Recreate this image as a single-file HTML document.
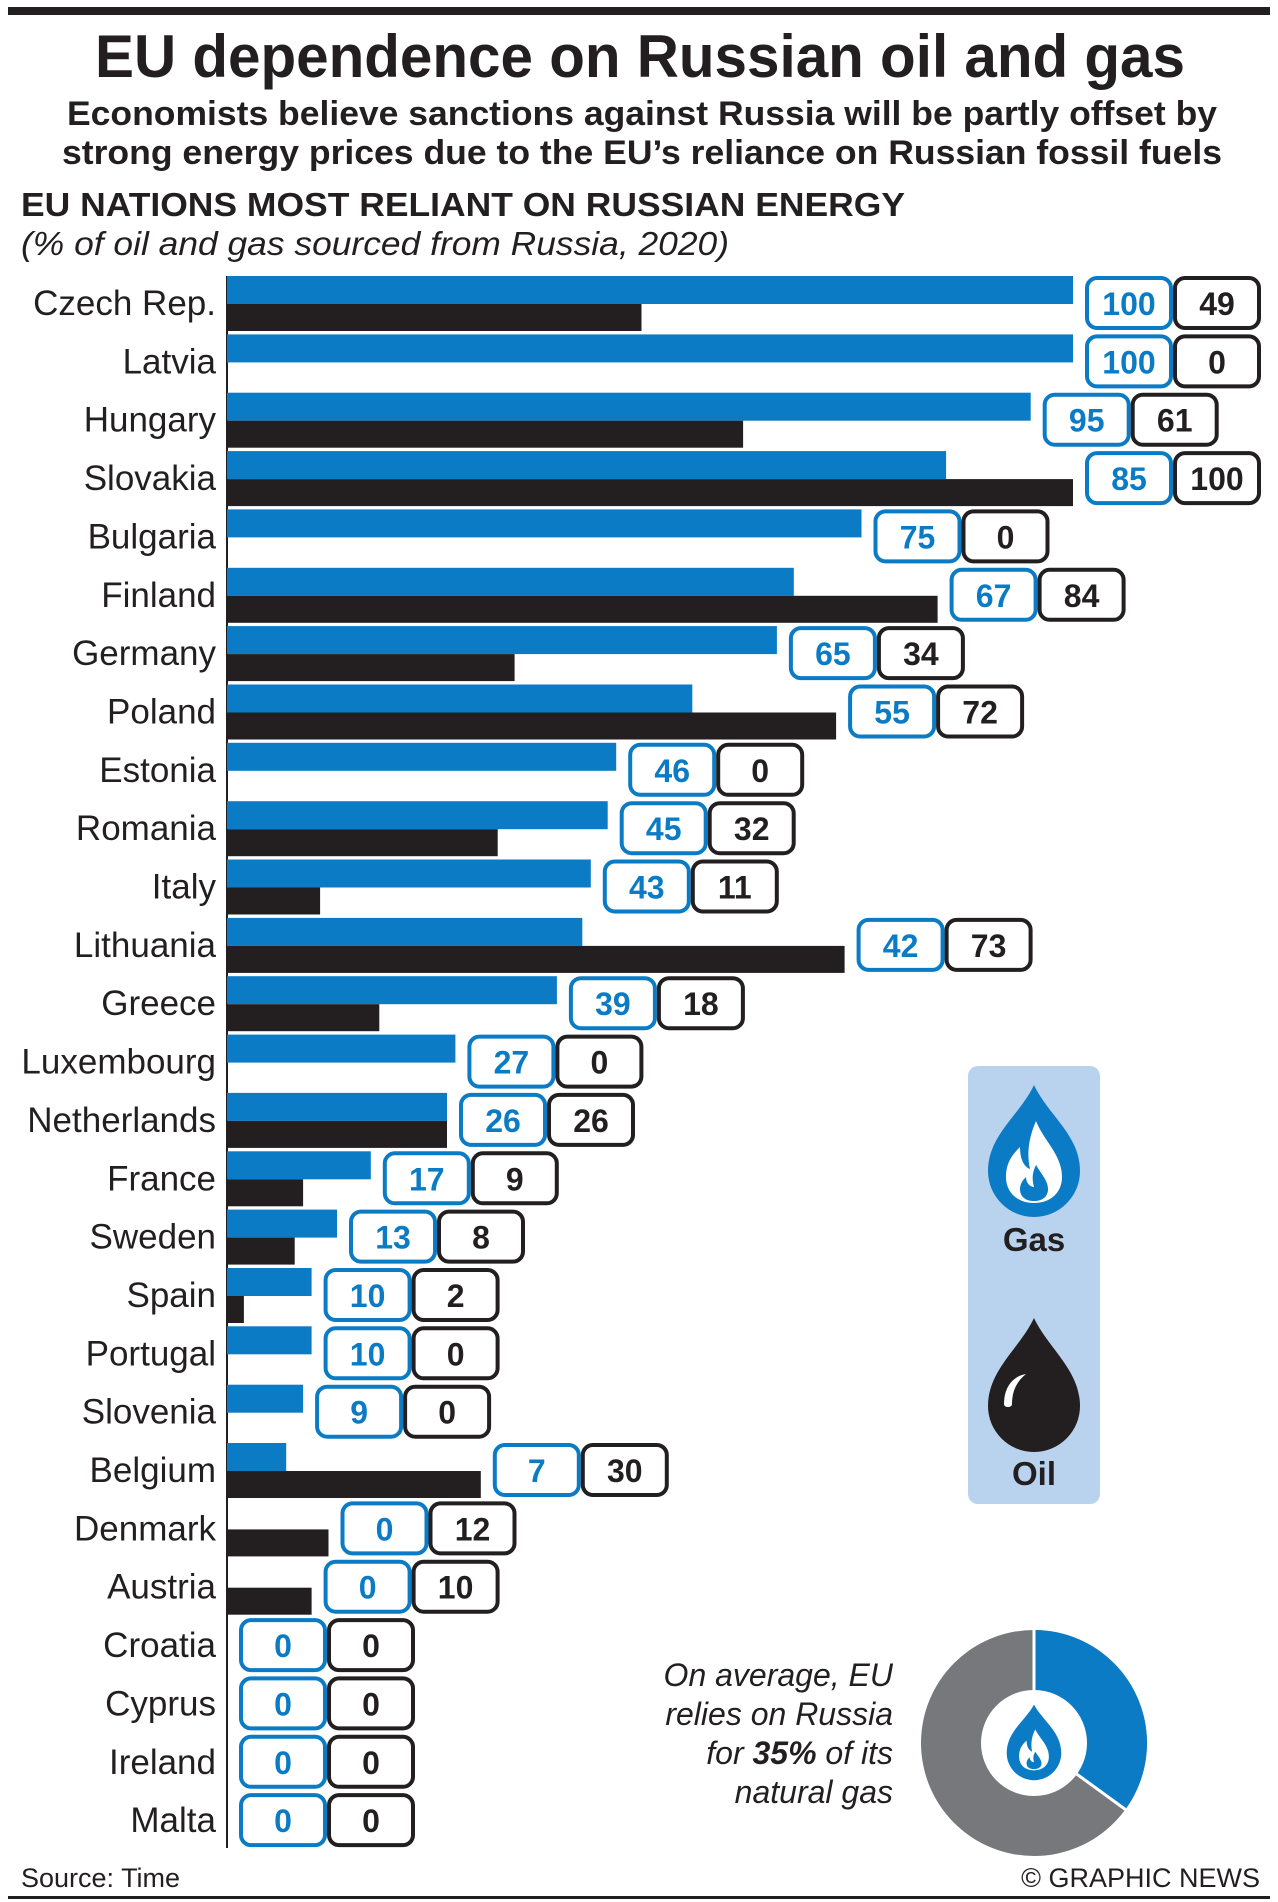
<!DOCTYPE html>
<html><head><meta charset="utf-8"><style>
html,body{margin:0;padding:0;background:#fff}
svg{display:block}
text{font-family:"Liberation Sans",Arial,sans-serif}
.lab{font-size:35px;text-anchor:end;fill:#231f20}
.bv{font-size:32px;font-weight:bold;fill:#0a7bc4;text-anchor:middle}
.ov{font-size:32px;font-weight:bold;fill:#231f20;text-anchor:middle}
.bb{fill:#fff;stroke:#0a7bc4;stroke-width:4}
.ob{fill:#fff;stroke:#231f20;stroke-width:4}
.g{fill:#0a7bc4}.o{fill:#231f20}
</style></head><body>
<svg width="1278" height="1902" viewBox="0 0 1278 1902" xmlns="http://www.w3.org/2000/svg">
<rect x="8" y="7" width="1262" height="8" fill="#231f20"/>
<text x="640" y="77" font-size="60" font-weight="bold" text-anchor="middle" textLength="1090" lengthAdjust="spacingAndGlyphs" fill="#231f20">EU dependence on Russian oil and gas</text>
<text x="642" y="125" font-size="34" font-weight="bold" text-anchor="middle" textLength="1150" lengthAdjust="spacingAndGlyphs" fill="#231f20">Economists believe sanctions against Russia will be partly offset by</text>
<text x="642" y="164" font-size="34" font-weight="bold" text-anchor="middle" textLength="1160" lengthAdjust="spacingAndGlyphs" fill="#231f20">strong energy prices due to the EU’s reliance on Russian fossil fuels</text>
<text x="21" y="216" font-size="33" font-weight="bold" textLength="884" lengthAdjust="spacingAndGlyphs" fill="#231f20">EU NATIONS MOST RELIANT ON RUSSIAN ENERGY</text>
<text x="21" y="255" font-size="33" font-style="italic" textLength="708" lengthAdjust="spacingAndGlyphs" fill="#231f20">(% of oil and gas sourced from Russia, 2020)</text>

<line x1="227" y1="276" x2="227" y2="1848" stroke="#231f20" stroke-width="2"/>

<g transform="translate(0,276)"><text class="lab" x="216" y="39">Czech Rep.</text><rect class="g" x="227" y="0" width="846" height="28"/><rect class="o" x="227" y="28" width="414.5" height="27"/><rect class="bb" x="1087" y="2" width="84" height="50" rx="10"/><text class="bv" x="1129" y="39">100</text><rect class="ob" x="1175" y="2" width="84" height="50" rx="10"/><text class="ov" x="1217" y="39">49</text></g>
<g transform="translate(0,334.4)"><text class="lab" x="216" y="39">Latvia</text><rect class="g" x="227" y="0" width="846" height="28"/><rect class="bb" x="1087" y="2" width="84" height="50" rx="10"/><text class="bv" x="1129" y="39">100</text><rect class="ob" x="1175" y="2" width="84" height="50" rx="10"/><text class="ov" x="1217" y="39">0</text></g>
<g transform="translate(0,392.7)"><text class="lab" x="216" y="39">Hungary</text><rect class="g" x="227" y="0" width="803.7" height="28"/><rect class="o" x="227" y="28" width="516.1" height="27"/><rect class="bb" x="1044.7" y="2" width="84" height="50" rx="10"/><text class="bv" x="1086.7" y="39">95</text><rect class="ob" x="1132.7" y="2" width="84" height="50" rx="10"/><text class="ov" x="1174.7" y="39">61</text></g>
<g transform="translate(0,451.1)"><text class="lab" x="216" y="39">Slovakia</text><rect class="g" x="227" y="0" width="719.1" height="28"/><rect class="o" x="227" y="28" width="846" height="27"/><rect class="bb" x="1087" y="2" width="84" height="50" rx="10"/><text class="bv" x="1129" y="39">85</text><rect class="ob" x="1175" y="2" width="84" height="50" rx="10"/><text class="ov" x="1217" y="39">100</text></g>
<g transform="translate(0,509.4)"><text class="lab" x="216" y="39">Bulgaria</text><rect class="g" x="227" y="0" width="634.5" height="28"/><rect class="bb" x="875.5" y="2" width="84" height="50" rx="10"/><text class="bv" x="917.5" y="39">75</text><rect class="ob" x="963.5" y="2" width="84" height="50" rx="10"/><text class="ov" x="1005.5" y="39">0</text></g>
<g transform="translate(0,567.8)"><text class="lab" x="216" y="39">Finland</text><rect class="g" x="227" y="0" width="566.8" height="28"/><rect class="o" x="227" y="28" width="710.6" height="27"/><rect class="bb" x="951.6" y="2" width="84" height="50" rx="10"/><text class="bv" x="993.6" y="39">67</text><rect class="ob" x="1039.6" y="2" width="84" height="50" rx="10"/><text class="ov" x="1081.6" y="39">84</text></g>
<g transform="translate(0,626.1)"><text class="lab" x="216" y="39">Germany</text><rect class="g" x="227" y="0" width="549.9" height="28"/><rect class="o" x="227" y="28" width="287.6" height="27"/><rect class="bb" x="790.9" y="2" width="84" height="50" rx="10"/><text class="bv" x="832.9" y="39">65</text><rect class="ob" x="878.9" y="2" width="84" height="50" rx="10"/><text class="ov" x="920.9" y="39">34</text></g>
<g transform="translate(0,684.5)"><text class="lab" x="216" y="39">Poland</text><rect class="g" x="227" y="0" width="465.3" height="28"/><rect class="o" x="227" y="28" width="609.1" height="27"/><rect class="bb" x="850.1" y="2" width="84" height="50" rx="10"/><text class="bv" x="892.1" y="39">55</text><rect class="ob" x="938.1" y="2" width="84" height="50" rx="10"/><text class="ov" x="980.1" y="39">72</text></g>
<g transform="translate(0,742.8)"><text class="lab" x="216" y="39">Estonia</text><rect class="g" x="227" y="0" width="389.2" height="28"/><rect class="bb" x="630.2" y="2" width="84" height="50" rx="10"/><text class="bv" x="672.2" y="39">46</text><rect class="ob" x="718.2" y="2" width="84" height="50" rx="10"/><text class="ov" x="760.2" y="39">0</text></g>
<g transform="translate(0,801.2)"><text class="lab" x="216" y="39">Romania</text><rect class="g" x="227" y="0" width="380.7" height="28"/><rect class="o" x="227" y="28" width="270.7" height="27"/><rect class="bb" x="621.7" y="2" width="84" height="50" rx="10"/><text class="bv" x="663.7" y="39">45</text><rect class="ob" x="709.7" y="2" width="84" height="50" rx="10"/><text class="ov" x="751.7" y="39">32</text></g>
<g transform="translate(0,859.5)"><text class="lab" x="216" y="39">Italy</text><rect class="g" x="227" y="0" width="363.8" height="28"/><rect class="o" x="227" y="28" width="93.1" height="27"/><rect class="bb" x="604.8" y="2" width="84" height="50" rx="10"/><text class="bv" x="646.8" y="39">43</text><rect class="ob" x="692.8" y="2" width="84" height="50" rx="10"/><text class="ov" x="734.8" y="39">11</text></g>
<g transform="translate(0,917.9)"><text class="lab" x="216" y="39">Lithuania</text><rect class="g" x="227" y="0" width="355.3" height="28"/><rect class="o" x="227" y="28" width="617.6" height="27"/><rect class="bb" x="858.6" y="2" width="84" height="50" rx="10"/><text class="bv" x="900.6" y="39">42</text><rect class="ob" x="946.6" y="2" width="84" height="50" rx="10"/><text class="ov" x="988.6" y="39">73</text></g>
<g transform="translate(0,976.2)"><text class="lab" x="216" y="39">Greece</text><rect class="g" x="227" y="0" width="329.9" height="28"/><rect class="o" x="227" y="28" width="152.3" height="27"/><rect class="bb" x="570.9" y="2" width="84" height="50" rx="10"/><text class="bv" x="612.9" y="39">39</text><rect class="ob" x="658.9" y="2" width="84" height="50" rx="10"/><text class="ov" x="700.9" y="39">18</text></g>
<g transform="translate(0,1034.6)"><text class="lab" x="216" y="39">Luxembourg</text><rect class="g" x="227" y="0" width="228.4" height="28"/><rect class="bb" x="469.4" y="2" width="84" height="50" rx="10"/><text class="bv" x="511.4" y="39">27</text><rect class="ob" x="557.4" y="2" width="84" height="50" rx="10"/><text class="ov" x="599.4" y="39">0</text></g>
<g transform="translate(0,1092.9)"><text class="lab" x="216" y="39">Netherlands</text><rect class="g" x="227" y="0" width="220" height="28"/><rect class="o" x="227" y="28" width="220" height="27"/><rect class="bb" x="461" y="2" width="84" height="50" rx="10"/><text class="bv" x="503" y="39">26</text><rect class="ob" x="549" y="2" width="84" height="50" rx="10"/><text class="ov" x="591" y="39">26</text></g>
<g transform="translate(0,1151.3)"><text class="lab" x="216" y="39">France</text><rect class="g" x="227" y="0" width="143.8" height="28"/><rect class="o" x="227" y="28" width="76.1" height="27"/><rect class="bb" x="384.8" y="2" width="84" height="50" rx="10"/><text class="bv" x="426.8" y="39">17</text><rect class="ob" x="472.8" y="2" width="84" height="50" rx="10"/><text class="ov" x="514.8" y="39">9</text></g>
<g transform="translate(0,1209.6)"><text class="lab" x="216" y="39">Sweden</text><rect class="g" x="227" y="0" width="110" height="28"/><rect class="o" x="227" y="28" width="67.7" height="27"/><rect class="bb" x="351" y="2" width="84" height="50" rx="10"/><text class="bv" x="393" y="39">13</text><rect class="ob" x="439" y="2" width="84" height="50" rx="10"/><text class="ov" x="481" y="39">8</text></g>
<g transform="translate(0,1268)"><text class="lab" x="216" y="39">Spain</text><rect class="g" x="227" y="0" width="84.6" height="28"/><rect class="o" x="227" y="28" width="16.9" height="27"/><rect class="bb" x="325.6" y="2" width="84" height="50" rx="10"/><text class="bv" x="367.6" y="39">10</text><rect class="ob" x="413.6" y="2" width="84" height="50" rx="10"/><text class="ov" x="455.6" y="39">2</text></g>
<g transform="translate(0,1326.3)"><text class="lab" x="216" y="39">Portugal</text><rect class="g" x="227" y="0" width="84.6" height="28"/><rect class="bb" x="325.6" y="2" width="84" height="50" rx="10"/><text class="bv" x="367.6" y="39">10</text><rect class="ob" x="413.6" y="2" width="84" height="50" rx="10"/><text class="ov" x="455.6" y="39">0</text></g>
<g transform="translate(0,1384.7)"><text class="lab" x="216" y="39">Slovenia</text><rect class="g" x="227" y="0" width="76.1" height="28"/><rect class="bb" x="317.1" y="2" width="84" height="50" rx="10"/><text class="bv" x="359.1" y="39">9</text><rect class="ob" x="405.1" y="2" width="84" height="50" rx="10"/><text class="ov" x="447.1" y="39">0</text></g>
<g transform="translate(0,1443)"><text class="lab" x="216" y="39">Belgium</text><rect class="g" x="227" y="0" width="59.2" height="28"/><rect class="o" x="227" y="28" width="253.8" height="27"/><rect class="bb" x="494.8" y="2" width="84" height="50" rx="10"/><text class="bv" x="536.8" y="39">7</text><rect class="ob" x="582.8" y="2" width="84" height="50" rx="10"/><text class="ov" x="624.8" y="39">30</text></g>
<g transform="translate(0,1501.4)"><text class="lab" x="216" y="39">Denmark</text><rect class="o" x="227" y="28" width="101.5" height="27"/><rect class="bb" x="342.5" y="2" width="84" height="50" rx="10"/><text class="bv" x="384.5" y="39">0</text><rect class="ob" x="430.5" y="2" width="84" height="50" rx="10"/><text class="ov" x="472.5" y="39">12</text></g>
<g transform="translate(0,1559.7)"><text class="lab" x="216" y="39">Austria</text><rect class="o" x="227" y="28" width="84.6" height="27"/><rect class="bb" x="325.6" y="2" width="84" height="50" rx="10"/><text class="bv" x="367.6" y="39">0</text><rect class="ob" x="413.6" y="2" width="84" height="50" rx="10"/><text class="ov" x="455.6" y="39">10</text></g>
<g transform="translate(0,1618.1)"><text class="lab" x="216" y="39">Croatia</text><rect class="bb" x="241" y="2" width="84" height="50" rx="10"/><text class="bv" x="283" y="39">0</text><rect class="ob" x="329" y="2" width="84" height="50" rx="10"/><text class="ov" x="371" y="39">0</text></g>
<g transform="translate(0,1676.4)"><text class="lab" x="216" y="39">Cyprus</text><rect class="bb" x="241" y="2" width="84" height="50" rx="10"/><text class="bv" x="283" y="39">0</text><rect class="ob" x="329" y="2" width="84" height="50" rx="10"/><text class="ov" x="371" y="39">0</text></g>
<g transform="translate(0,1734.8)"><text class="lab" x="216" y="39">Ireland</text><rect class="bb" x="241" y="2" width="84" height="50" rx="10"/><text class="bv" x="283" y="39">0</text><rect class="ob" x="329" y="2" width="84" height="50" rx="10"/><text class="ov" x="371" y="39">0</text></g>
<g transform="translate(0,1793.1)"><text class="lab" x="216" y="39">Malta</text><rect class="bb" x="241" y="2" width="84" height="50" rx="10"/><text class="bv" x="283" y="39">0</text><rect class="ob" x="329" y="2" width="84" height="50" rx="10"/><text class="ov" x="371" y="39">0</text></g>

<!-- legend -->
<rect x="968" y="1066" width="132" height="438" rx="10" fill="#b9d3ee"/>
<g transform="translate(1034,1163)">
<path d="M0,-78 C14,-48 46,-28 46,8 A46,46 0 0 1 -46,8 C-46,-28 -14,-48 0,-78 Z" fill="#0a7bc4"/>
<path d="M2,-42 C10,-22 28,-8 28,14 C28,30 16,40 0,40 C-16,40 -28,30 -28,14 C-28,-2 -20,-10 -14,-16 C-14,-4 -10,4 -4,6 C-8,-12 -4,-28 2,-42 Z" fill="#fff"/>
<path d="M2,2 C8,12 14,18 14,26 C14,34 8,38 0,38 C-8,38 -14,34 -14,26 C-14,20 -10,16 -8,14 C-8,20 -4,24 0,24 C-2,16 -2,10 2,2 Z" fill="#0a7bc4"/>
</g>
<text x="1034" y="1251" font-size="33" font-weight="bold" text-anchor="middle" fill="#231f20">Gas</text>
<g transform="translate(1034,1400)">
<path d="M0,-82 C14,-52 46,-30 46,6 A46,46 0 0 1 -46,6 C-46,-30 -14,-52 0,-82 Z" fill="#231f20"/>
<path d="M-30,4 C-30,-14 -20,-24 -8,-26 C-18,-18 -22,-8 -22,4 C-22,8 -30,8 -30,4 Z" fill="#fff"/>
</g>
<text x="1034" y="1485" font-size="33" font-weight="bold" text-anchor="middle" fill="#231f20">Oil</text>

<!-- donut -->
<circle cx="1034" cy="1743" r="113" fill="#77787b"/>
<path d="M1034,1743 L1034,1630 A113,113 0 0 1 1125.4,1809.4 Z" fill="#0a7bc4"/>
<line x1="1034" y1="1743" x2="1034" y2="1627" stroke="#fff" stroke-width="3"/>
<line x1="1034" y1="1743" x2="1127.5" y2="1811" stroke="#fff" stroke-width="3"/>
<circle cx="1034" cy="1743" r="53" fill="#fff"/>
<g transform="translate(1034,1748) scale(0.62)">
<path d="M0,-70 C14,-44 44,-26 44,8 A44,44 0 0 1 -44,8 C-44,-26 -14,-44 0,-70 Z" fill="#0a7bc4"/>
<path d="M2,-30 C10,-14 24,-4 24,14 C24,28 14,36 0,36 C-14,36 -24,28 -24,14 C-24,0 -18,-6 -12,-12 C-12,-2 -8,4 -3,6 C-6,-8 -3,-20 2,-30 Z" fill="#fff"/>
<path d="M2,6 C7,14 12,18 12,25 C12,31 7,34 0,34 C-7,34 -12,31 -12,25 C-12,20 -9,17 -7,15 C-7,20 -3,23 0,23 C-2,16 -1,11 2,6 Z" fill="#0a7bc4"/>
</g>
<g font-size="32" font-style="italic" text-anchor="end" fill="#231f20">
<text x="893" y="1686">On average, EU</text>
<text x="893" y="1725">relies on Russia</text>
<text x="893" y="1764">for <tspan font-weight="bold">35%</tspan> of its</text>
<text x="893" y="1803">natural gas</text>
</g>

<text x="21" y="1887" font-size="27" fill="#231f20">Source: Time</text>
<text x="1260" y="1887" font-size="27" text-anchor="end" fill="#231f20">© GRAPHIC NEWS</text>
<rect x="8" y="1896" width="1262" height="3" fill="#231f20"/>
</svg>
</body></html>
